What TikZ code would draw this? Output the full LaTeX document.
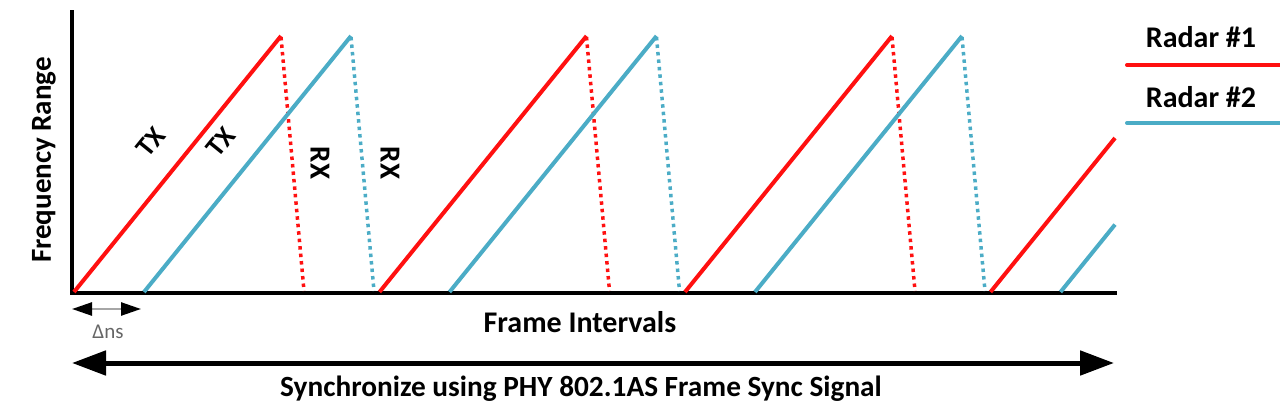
\documentclass[tikz,border=0pt]{standalone}
\usepackage{fontspec}
\setmainfont{Carlito}
\usetikzlibrary{arrows.meta}
\definecolor{rred}{HTML}{FF1010}
\definecolor{rblue}{HTML}{4BACC6}
\tikzset{
  axis/.style={line width=4pt, black, line cap=rect},
  ramp/.style={line width=4pt},
  ret/.style={line width=3.5pt, dash pattern=on 3.5pt off 4pt},
  lbl/.style={font=\bfseries\fontsize{30}{32}\selectfont, inner sep=0pt},
  tag/.style={font=\bfseries\fontsize{29}{31}\selectfont, inner sep=0pt},
  ttag/.style={font=\bfseries\fontsize{27.5}{30}\selectfont, inner sep=0pt},
  big/.style={font=\bfseries\fontsize{29.3}{31}\selectfont, inner sep=0pt},
}
\begin{document}
\begin{tikzpicture}[x=1pt,y=-1pt]
\useasboundingbox (0,0) rectangle (1280,412);
% axes
\coordinate (O) at (72,293);
\coordinate (Ytop) at (72,12);
\coordinate (Xend) at (1115,293);
\draw[axis] (Ytop) -- (O) -- (Xend);
% ramps
\foreach \s/\c in {74/rred,144/rblue,379.5/rred,449.5/rblue,685/rred,755/rblue}{
  \draw[ramp,\c] (\s,292) -- ({\s+207},36);
  \draw[ret,\c] ({\s+207},37) -- ({\s+230},291);
}
\draw[ramp,rred] (990.5,292) -- (1115,138);
\draw[ramp,rblue] (1060.5,292) -- (1115,224.6);
% labels
\node[ttag, rotate=51] (tx1) at (151,142) {TX};
\node[ttag, rotate=51] (tx2) at (221,142) {TX};
\node[tag, rotate=-90] (rx1) at (320,163) {RX};
\node[tag, rotate=-90] (rx2) at (390,163) {RX};
\node[tag, rotate=90] (fr) at (44,160) {Frequency Range};
\node[lbl] (fi) at (580,322) {Frame Intervals};
% delta ns
\coordinate (d1) at (72,309);
\coordinate (d2) at (141,309);
\draw[gray!70, line width=2.5pt, {Triangle[black,length=20pt,width=13pt]}-{Triangle[black,length=20pt,width=13pt]}] (d1) -- (d2);
\node[font=\fontsize{21}{23}\selectfont, text=black!60, inner sep=0pt] (dn) at (108,332) {Δns};
% sync arrow
\coordinate (s1) at (72,363);
\coordinate (s2) at (1114,363);
\draw[line width=5pt, {Triangle[length=34pt,width=24pt]}-{Triangle[length=34pt,width=24pt]}] (s1) -- (s2);
\node[big] (sync) at (581,389) {Synchronize using PHY 802.1AS Frame Sync Signal};
% legend
\node[lbl] (r1) at (1201,37) {Radar \#1};
\draw[ramp,rred,line cap=round] (1127,65) -- (1282,65);
\node[lbl] (r2) at (1201,97) {Radar \#2};
\draw[ramp,rblue,line cap=round] (1127,123) -- (1282,123);
\end{tikzpicture}
\end{document}
